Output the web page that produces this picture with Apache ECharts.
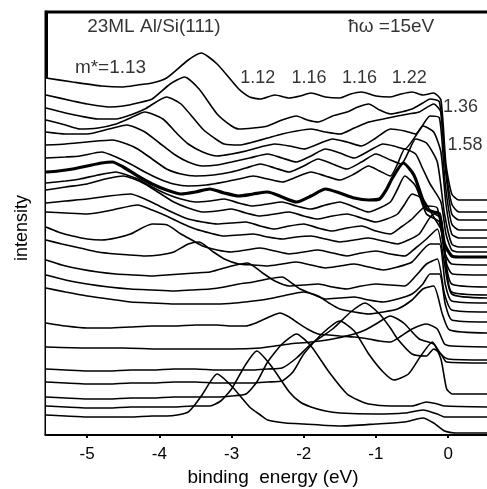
<!DOCTYPE html>
<html><head><meta charset="utf-8">
<script src="https://cdn.jsdelivr.net/npm/echarts@6/dist/echarts.min.js"></script>
<style>html,body{margin:0;padding:0;background:#fff}#c{width:487px;height:489px}</style>
</head><body><div id="c"></div>
<script>
// Each curve: [binding energy (eV), intensity (arb., offset stacked)]
const c01=[[-5.57,356],[-5.2,352],[-4.8,348],[-4.5,347],[-4.3,349],[-4.1,351],[-3.9,356],[-3.6,374],[-3.42,381],[-3.2,370],[-2.9,345],[-2.75,337],[-2.6,335],[-2.4,339],[-2.2,336],[-2.05,338],[-1.9,341],[-1.7,337],[-1.5,336],[-1.35,340],[-1.2,342],[-1.0,338],[-0.8,337],[-0.65,340],[-0.5,342],[-0.35,339],[-0.2,341],[-0.1,334],[-0.03,270],[0.05,240],[0.15,234],[0.58,234]];
const c02=[[-5.57,339],[-5.2,333],[-5.0,330],[-4.7,327],[-4.5,328],[-4.3,331],[-4.1,335],[-3.85,350],[-3.65,357],[-3.45,345],[-3.2,320],[-3.0,308],[-2.9,305],[-2.7,306],[-2.5,308],[-2.3,314],[-2.1,318],[-1.95,314],[-1.8,312],[-1.6,318],[-1.4,322],[-1.25,327],[-1.1,330],[-0.95,324],[-0.8,320],[-0.65,322],[-0.5,325],[-0.35,331],[-0.25,335],[-0.12,332],[-0.04,270],[0.05,230],[0.15,222],[0.58,222]];
const c03=[[-5.57,326],[-5.3,321],[-5.1,318],[-4.85,315],[-4.6,315],[-4.4,319],[-4.2,325],[-3.9,337],[-3.7,330],[-3.4,305],[-3.2,294],[-3.1,290],[-2.9,289],[-2.7,292],[-2.5,296],[-2.3,300],[-2.1,303],[-1.9,305],[-1.7,302],[-1.5,300],[-1.3,306],[-1.1,312],[-0.9,315],[-0.7,318],[-0.55,320],[-0.4,322],[-0.2,330],[-0.1,322],[-0.03,260],[0.05,220],[0.15,214],[0.58,214]];
const c04=[[-5.57,314],[-5.3,309],[-5.1,305],[-4.85,306],[-4.6,310],[-4.4,316],[-4.2,322],[-3.95,315],[-3.75,300],[-3.6,290],[-3.4,282],[-3.2,278],[-3.0,280],[-2.8,283],[-2.6,287],[-2.4,290],[-2.2,288],[-2.0,285],[-1.8,290],[-1.6,295],[-1.4,292],[-1.2,288],[-1.0,296],[-0.8,305],[-0.6,303],[-0.45,300],[-0.25,318],[-0.12,316],[-0.04,250],[0.05,210],[0.15,204],[0.58,204]];
const c05=[[-5.57,302],[-5.3,300],[-5.0,300],[-4.7,305],[-4.45,309],[-4.2,302],[-4.0,291],[-3.8,280],[-3.6,272],[-3.4,268],[-3.2,269],[-3.0,272],[-2.75,276],[-2.5,280],[-2.3,276],[-2.1,272],[-1.9,278],[-1.7,285],[-1.5,281],[-1.3,276],[-1.1,283],[-0.9,290],[-0.75,288],[-0.6,285],[-0.45,298],[-0.35,308],[-0.2,302],[-0.1,282],[-0.03,230],[0.05,200],[0.15,196],[0.58,196]];
const c06=[[-5.57,289],[-5.3,290],[-5.0,292],[-4.65,294],[-4.45,290],[-4.3,285],[-4.1,275],[-3.9,265],[-3.7,260],[-3.5,258],[-3.25,259],[-3.0,262],[-2.8,266],[-2.6,270],[-2.4,266],[-2.2,262],[-2.0,268],[-1.8,275],[-1.6,270],[-1.4,265],[-1.2,272],[-1.0,280],[-0.8,274],[-0.65,270],[-0.55,282],[-0.45,295],[-0.3,291],[-0.15,272],[-0.05,220],[0.05,190],[0.15,187],[0.58,187]];
const c07=[[-5.57,276],[-5.3,277],[-5.1,278],[-4.8,282],[-4.6,277],[-4.4,270],[-4.2,262],[-4.0,255],[-3.8,250],[-3.6,248],[-3.35,249],[-3.1,252],[-2.9,255],[-2.7,258],[-2.5,255],[-2.3,252],[-2.1,257],[-1.9,262],[-1.7,258],[-1.5,254],[-1.3,260],[-1.1,268],[-0.95,263],[-0.8,258],[-0.7,270],[-0.6,285],[-0.45,280],[-0.35,265],[-0.25,250],[-0.1,232],[-0.03,200],[0.05,184],[0.15,182],[0.58,182]];
const c08=[[-5.57,262],[-5.4,263],[-5.2,265],[-5.0,268],[-4.8,271],[-4.65,272],[-4.5,267],[-4.3,258],[-4.1,250],[-3.9,244],[-3.7,240],[-3.5,242],[-3.3,245],[-3.1,241],[-2.9,238],[-2.7,240],[-2.5,242],[-2.3,237],[-2.1,232],[-1.9,238],[-1.7,245],[-1.5,241],[-1.3,236],[-1.1,234],[-0.95,235],[-0.85,245],[-0.78,255],[-0.62,271],[-0.5,262],[-0.45,255],[-0.3,225],[-0.2,222],[-0.12,220],[-0.05,190],[0.05,178],[0.15,177],[0.58,177]];
const c09=[[-5.57,251],[-5.3,253],[-5.1,255],[-4.85,259],[-4.6,262],[-4.45,259],[-4.3,255],[-4.1,247],[-3.9,240],[-3.7,235],[-3.5,232],[-3.3,233],[-3.1,235],[-2.9,231],[-2.7,228],[-2.5,230],[-2.3,232],[-2.1,228],[-1.9,225],[-1.7,229],[-1.5,232],[-1.3,227],[-1.1,222],[-0.95,226],[-0.8,232],[-0.7,245],[-0.6,258],[-0.45,248],[-0.3,220],[-0.12,212],[-0.04,180],[0.05,170],[0.58,169]];
const c10=[[-5.57,244],[-5.3,247],[-5.0,250],[-4.75,255],[-4.5,258],[-4.35,255],[-4.2,250],[-4.0,241],[-3.8,232],[-3.6,226],[-3.4,222],[-3.2,223],[-3.0,225],[-2.8,221],[-2.6,218],[-2.4,220],[-2.2,222],[-2.0,218],[-1.8,215],[-1.6,218],[-1.4,220],[-1.2,216],[-1.0,212],[-0.85,215],[-0.7,220],[-0.6,230],[-0.5,240],[-0.35,235],[-0.2,217],[-0.08,202],[-0.02,170],[0.06,160],[0.58,159]];
const c11=[[-5.57,231],[-5.3,233],[-5.0,235],[-4.7,238],[-4.4,240],[-4.2,235],[-4.0,228],[-3.8,221],[-3.6,215],[-3.4,212],[-3.2,210],[-3.0,211],[-2.8,212],[-2.6,208],[-2.4,205],[-2.2,208],[-2.0,210],[-1.8,206],[-1.6,203],[-1.4,206],[-1.2,208],[-1.0,203],[-0.8,200],[-0.65,207],[-0.5,215],[-0.3,228],[-0.15,226],[-0.05,180],[0.05,150],[0.58,147]];
const c12=[[-5.57,222],[-5.3,221],[-5.0,220],[-4.65,224],[-4.3,229],[-4.1,224],[-3.9,218],[-3.7,211],[-3.5,205],[-3.3,201],[-3.1,198],[-2.9,199],[-2.7,200],[-2.5,197],[-2.3,195],[-2.1,197],[-1.9,198],[-1.7,195],[-1.5,192],[-1.3,194],[-1.1,196],[-0.9,193],[-0.7,190],[-0.55,194],[-0.4,200],[-0.2,220],[-0.1,216],[-0.03,170],[0.05,142],[0.58,139]];
const c13=[[-5.57,207],[-5.4,202],[-5.2,198],[-5.0,195],[-4.8,194],[-4.6,196],[-4.4,200],[-4.1,210],[-3.89,209],[-3.7,200],[-3.55,194],[-3.4,188],[-3.2,184],[-3.0,182],[-2.8,184],[-2.6,186],[-2.4,183],[-2.2,180],[-2.0,182],[-1.8,184],[-1.6,181],[-1.4,178],[-1.2,181],[-1.0,183],[-0.8,180],[-0.6,178],[-0.45,186],[-0.3,195],[-0.15,205],[-0.05,170],[0.05,140],[0.58,136]];
const c14=[[-5.57,194],[-5.35,190],[-5.1,186],[-4.85,182],[-4.6,180],[-4.4,179],[-4.2,178],[-4.0,179],[-3.8,182],[-3.6,190],[-3.45,192],[-3.25,182],[-3.1,175],[-2.9,170],[-2.7,169],[-2.5,168],[-2.3,170],[-2.1,172],[-1.9,169],[-1.7,166],[-1.5,168],[-1.3,170],[-1.1,167],[-0.9,164],[-0.7,167],[-0.5,172],[-0.25,190],[-0.12,190],[-0.04,150],[0.05,133],[0.58,131]];
const c15=[[-5.57,174],[-5.35,169],[-5.1,165],[-4.85,162],[-4.6,160],[-4.35,159],[-4.1,158],[-3.9,159],[-3.7,160],[-3.5,161],[-3.3,162],[-3.15,165],[-3.0,168],[-2.78,171],[-2.55,160],[-2.4,153],[-2.2,148],[-2.0,149],[-1.8,150],[-1.6,147],[-1.4,145],[-1.2,148],[-1.0,150],[-0.8,149],[-0.6,148],[-0.45,158],[-0.3,170],[-0.15,175],[-0.05,140],[0.05,124],[0.58,122]];
const c16=[[-5.57,159],[-5.3,154],[-5.0,150],[-4.7,147],[-4.4,145],[-4.1,144],[-3.8,143],[-3.55,144],[-3.3,145],[-3.1,147],[-2.9,150],[-2.7,152],[-2.5,155],[-2.3,157],[-2.15,150],[-2.05,145],[-1.85,139],[-1.7,135],[-1.5,136],[-1.3,137],[-1.1,134],[-0.9,132],[-0.7,135],[-0.5,140],[-0.35,150],[-0.25,160],[-0.12,160],[-0.04,130],[0.05,114],[0.58,112]];
const c17=[[-5.57,146],[-5.3,142],[-5.0,138],[-4.7,135],[-4.4,132],[-4.1,131],[-3.8,130],[-3.5,130],[-3.2,130],[-2.95,131],[-2.7,133],[-2.5,135],[-2.3,138],[-2.0,142],[-1.8,138],[-1.65,131],[-1.5,125],[-1.3,122],[-1.1,120],[-0.9,122],[-0.7,125],[-0.5,134],[-0.35,145],[-0.2,148],[-0.08,120],[0.02,104],[0.58,101]];
const c18=[[-5.57,111],[-5.3,108],[-5.0,106],[-4.7,106],[-4.4,107],[-4.1,108],[-3.8,108],[-3.5,109],[-3.2,109],[-3.0,108],[-2.8,108],[-2.7,110],[-2.6,113],[-2.45,118],[-2.33,121],[-2.2,117],[-2.1,112],[-1.95,105],[-1.8,100],[-1.65,99],[-1.5,98],[-1.3,97],[-1.1,95],[-0.95,93],[-0.8,92],[-0.65,98],[-0.5,105],[-0.3,110],[-0.15,105],[-0.05,90],[0.05,88],[0.58,87]];
const c19=[[-5.57,87],[-5.0,86],[-4.5,86],[-4.0,85],[-3.5,85],[-3.0,85],[-2.6,86],[-2.4,88],[-2.2,90],[-1.9,92],[-1.6,95],[-1.3,100],[-1.15,104],[-1.0,110],[-0.8,118],[-0.7,115],[-0.6,110],[-0.4,95],[-0.2,90],[-0.1,80],[0.0,75],[0.58,74]];
const c20=[[-5.57,65],[-5.3,64],[-5.0,63],[-4.7,63],[-4.4,64],[-4.1,64],[-3.8,65],[-3.5,65],[-3.2,64],[-2.95,64],[-2.7,64],[-2.5,65],[-2.3,66],[-2.1,76],[-1.9,90],[-1.6,105],[-1.35,122],[-1.15,131],[-0.95,120],[-0.8,106],[-0.7,95],[-0.5,80],[-0.3,78],[-0.2,85],[-0.1,80],[-0.02,72],[0.58,71]];
const c21=[[-5.57,52],[-5.3,51],[-5.0,50],[-4.7,50],[-4.4,51],[-4.1,51],[-3.8,52],[-3.5,52],[-3.2,51],[-2.95,51],[-2.7,51],[-2.5,52],[-2.3,53],[-2.15,62],[-2.0,80],[-1.75,100],[-1.5,113],[-1.3,103],[-1.1,80],[-0.9,62],[-0.75,54],[-0.55,60],[-0.38,78],[-0.22,92],[-0.1,75],[-0.02,45],[0.06,40],[0.58,40]];
const c22=[[-5.57,37],[-5.3,36],[-5.0,35],[-4.7,35],[-4.4,36],[-4.1,36],[-3.8,37],[-3.5,37],[-3.2,37],[-3.0,38],[-2.8,40],[-2.65,52],[-2.5,72],[-2.3,90],[-2.1,100],[-1.9,88],[-1.65,62],[-1.4,40],[-1.25,34],[-1.1,30],[-0.8,28],[-0.5,28],[-0.3,32],[-0.15,30],[-0.05,28],[0.58,27]];
const c23=[[-5.57,28],[-5.3,27],[-5.0,26],[-4.7,26],[-4.4,27],[-4.1,27],[-3.8,27],[-3.55,28],[-3.3,28],[-3.15,33],[-3.0,45],[-2.8,70],[-2.65,83],[-2.45,68],[-2.2,42],[-2.05,32],[-1.9,27],[-1.7,23],[-1.5,21],[-1.0,20],[-0.6,21],[-0.35,24],[-0.15,20],[-0.05,17],[0.58,17]];
const c24=[[-5.57,19],[-5.3,18],[-5.0,17],[-4.7,17],[-4.4,17],[-4.1,18],[-3.9,18],[-3.75,19],[-3.6,22],[-3.5,30],[-3.4,40],[-3.2,60],[-3.0,48],[-2.75,27],[-2.6,19],[-2.5,14],[-2.25,11],[-2.0,10],[-1.5,8],[-1.0,10],[-0.6,12],[-0.35,16],[-0.2,11],[-0.05,3],[0.1,1],[0.58,1]];
const curves=[c01,c02,c03,c04,c05,c06,c07,c08,c09,c10,c11,c12,c13,c14,c15,c16,c17,c18,c19,c20,c21,c22,c23,c24];
const thickCurves=[7];
const xTicks=[-5,-4,-3,-2,-1,0];
const annotations=[
  {text:'23ML Al/Si(111)',x:-5.0,y:407,size:19},
  {text:'ħω =15eV',x:-1.385,y:407,size:19},
  {text:'m*=1.13',x:-5.17,y:366,size:19},
  {text:'1.12',x:-2.88,y:356,size:18},
  {text:'1.16',x:-2.17,y:356,size:18},
  {text:'1.16',x:-1.47,y:356,size:18},
  {text:'1.22',x:-0.78,y:356,size:18},
  {text:'1.36',x:-0.07,y:327,size:18},
  {text:'1.58',x:-0.01,y:289,size:18}
];
const FONT='"Liberation Sans", Arial, Helvetica, sans-serif';
const chart=echarts.init(document.getElementById('c'),null,{renderer:'canvas'});
const series=curves.map((d,i)=>({
  type:'line',data:d,symbol:'none',smooth:0.2,silent:true,
  lineStyle:{color:'#000',width:thickCurves.includes(i)?3.2:1.6},
  areaStyle:{color:'#fff',opacity:1,origin:'start'},
  z:2
}));
series.push({
  type:'scatter',silent:true,z:10,symbolSize:0,
  data:annotations.map(a=>({value:[a.x,a.y],label:{show:true,formatter:a.text,fontSize:a.size,
    fontFamily:FONT,color:'#000',align:'left',verticalAlign:'middle',position:[0,0]}}))
});
chart.setOption({
  animation:false,
  backgroundColor:'#fff',
  grid:{left:46,right:-3,top:12,bottom:55,containLabel:false,outerBoundsMode:'none',show:true,borderColor:'#000',borderWidth:3,backgroundColor:'transparent'},
  xAxis:{
    type:'value',min:-5.57,max:0.58,
    axisLine:{show:true,onZero:false,lineStyle:{color:'#000',width:3}},
    axisTick:{show:true,customValues:xTicks,length:4,inside:false,lineStyle:{color:'#000',width:2}},
    axisLabel:{show:true,customValues:xTicks,color:'#000',fontSize:17,fontFamily:FONT,margin:12},
    splitLine:{show:false},
    name:'binding  energy (eV)',nameLocation:'middle',nameGap:34,
    nameTextStyle:{color:'#000',fontSize:19,fontFamily:FONT,padding:[0,0,0,10]}
  },
  yAxis:{
    type:'value',min:0,max:422,
    axisLine:{show:true,onZero:false,lineStyle:{color:'#000',width:3}},
    axisTick:{show:false},axisLabel:{show:false},splitLine:{show:false},
    name:'intensity',nameLocation:'middle',nameGap:15,nameRotate:90,
    nameTextStyle:{color:'#000',fontSize:18,fontFamily:FONT,padding:[0,10,0,0]}
  },
  series:series
});
</script></body></html>
